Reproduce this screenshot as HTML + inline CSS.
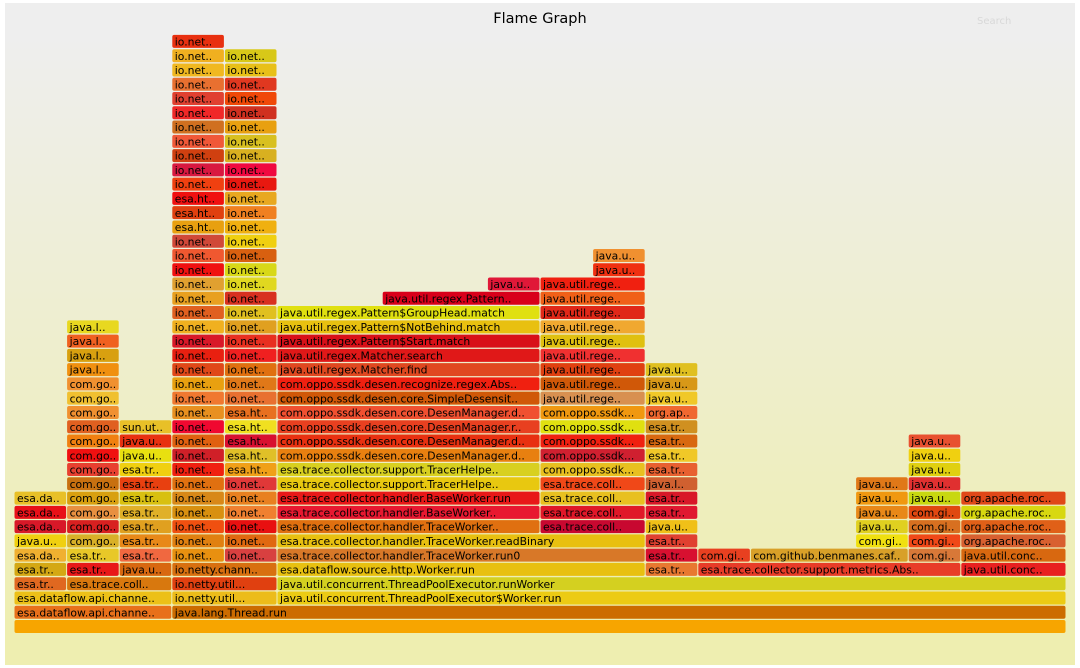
<!DOCTYPE html>
<html><head><meta charset="utf-8"><title>Flame Graph</title>
<style>html,body{margin:0;padding:0;background:#fff;}svg{display:block;}text{font-family:"DejaVu Sans","Liberation Sans",sans-serif;}</style>
</head><body>
<svg id="chart" width="1080" height="668" viewBox="0 0 1080 668">
<defs><linearGradient id="bg" x1="0" y1="0" x2="0" y2="1"><stop offset="5%" stop-color="#eeeeee"/><stop offset="95%" stop-color="#eeeeb0"/></linearGradient></defs>
<rect x="5" y="3" width="1070" height="662" fill="url(#bg)"/>
<text x="540" y="23" text-anchor="middle" font-size="14.5" fill="#000">Flame Graph</text>
<text x="977" y="24" font-size="10" fill="#d8d8d8">Search</text>
<g id="frames"></g>
</svg>
<script>
// Each row: [startUnit, widthUnits, label, color]; row index = stack depth (0 = root)
const totalUnits = 20;
const stackRows = [
 [[0,20,'','#f7a500']],
 [[0,3,'esa.dataflow.api.channe..','#e8701a'],[3,17,'java.lang.Thread.run','#cc6c00']],
 [[0,3,'esa.dataflow.api.channe..','#ecc018'],[3,2,'io.netty.util...','#ecbc1a'],[5,15,'java.util.concurrent.ThreadPoolExecutor$Worker.run','#eccb14']],
 [[0,1,'esa.tr..','#e06820'],[1,2,'esa.trace.coll..','#d8780e'],[3,2,'io.netty.util...','#e04010'],[5,15,'java.util.concurrent.ThreadPoolExecutor.runWorker','#d4d020']],
 [[0,1,'esa.tr..','#d4a814'],[1,1,'esa.tr..','#e81818'],[2,1,'java.u..','#d86810'],[3,2,'io.netty.chann..','#d87010'],[5,7,'esa.dataflow.source.http.Worker.run','#e8c010'],[12,1,'esa.tr..','#e87830'],[13,5,'esa.trace.collector.support.metrics.Abs..','#e83c28'],[18,2,'java.util.conc..','#e82020']],
 [[0,1,'esa.da..','#f0b030'],[1,1,'esa.tr..','#e8c828'],[2,1,'esa.tr..','#f06840'],[3,1,'io.net..','#e89010'],[4,1,'io.net..','#d84040'],[5,7,'esa.trace.collector.handler.TraceWorker.run0','#d87828'],[12,1,'esa.tr..','#d81030'],[13,1,'com.gi..','#e84020'],[14,3,'com.github.benmanes.caf..','#d8a028'],[17,1,'com.gi..','#d87838'],[18,2,'java.util.conc..','#d86810']],
 [[0,1,'java.u..','#f0d010'],[1,1,'com.go..','#d8b028'],[2,1,'esa.tr..','#e88818'],[3,1,'io.net..','#e08010'],[4,1,'io.net..','#e06810'],[5,7,'esa.trace.collector.handler.TraceWorker.readBinary','#e8c010'],[12,1,'esa.tr..','#e04030'],[16,1,'com.gi..','#f0e010'],[17,1,'com.gi..','#f04818'],[18,2,'org.apache.roc..','#d86030']],
 [[0,1,'esa.da..','#d81828'],[1,1,'com.go..','#d82020'],[2,1,'esa.tr..','#e0a020'],[3,1,'io.net..','#f05010'],[4,1,'io.net..','#e81010'],[5,5,'esa.trace.collector.handler.TraceWorker..','#e07010'],[10,2,'esa.trace.coll..','#c80830'],[12,1,'java.u..','#f0c018'],[16,1,'java.u..','#e0d020'],[17,1,'com.gi..','#d87020'],[18,2,'org.apache.roc..','#e06018']],
 [[0,1,'esa.da..','#e81018'],[1,1,'com.go..','#e89040'],[2,1,'esa.tr..','#e0b028'],[3,1,'io.net..','#d89010'],[4,1,'io.net..','#f08030'],[5,5,'esa.trace.collector.handler.BaseWorker..','#e81830'],[10,2,'esa.trace.coll..','#e01828'],[12,1,'esa.tr..','#e01830'],[16,1,'java.u..','#e88818'],[17,1,'com.gi..','#e04810'],[18,2,'org.apache.roc..','#d8d810']],
 [[0,1,'esa.da..','#e8c028'],[1,1,'com.go..','#d8a010'],[2,1,'esa.tr..','#d8c010'],[3,1,'io.net..','#d88818'],[4,1,'io.net..','#e88020'],[5,5,'esa.trace.collector.handler.BaseWorker.run','#e81818'],[10,2,'esa.trace.coll..','#e8c020'],[12,1,'esa.tr..','#d81828'],[16,1,'java.u..','#f09810'],[17,1,'java.u..','#c8d810'],[18,2,'org.apache.roc..','#e04818']],
 [[1,1,'com.go..','#c87010'],[2,1,'esa.tr..','#e84010'],[3,1,'io.net..','#e07010'],[4,1,'io.net..','#e03838'],[5,5,'esa.trace.collector.support.TracerHelpe..','#e8c810'],[10,2,'esa.trace.coll..','#f04818'],[12,1,'java.l..','#d06030'],[16,1,'java.u..','#e07818'],[17,1,'java.u..','#e03030']],
 [[1,1,'com.go..','#e84030'],[2,1,'esa.tr..','#f0d010'],[3,1,'io.net..','#f02010'],[4,1,'esa.ht..','#f0a018'],[5,5,'esa.trace.collector.support.TracerHelpe..','#d8d020'],[10,2,'com.oppo.ssdk...','#e8c020'],[12,1,'esa.tr..','#e86030'],[17,1,'java.u..','#e0d010']],
 [[1,1,'com.go..','#f01010'],[2,1,'java.u..','#e8e010'],[3,1,'io.net..','#d02028'],[4,1,'esa.ht..','#e0c028'],[5,5,'com.oppo.ssdk.desen.core.DesenManager.d..','#e88010'],[10,2,'com.oppo.ssdk...','#d02030'],[12,1,'esa.tr..','#f0c828'],[17,1,'java.u..','#f0d010']],
 [[1,1,'com.go..','#f08010'],[2,1,'java.u..','#e83010'],[3,1,'io.net..','#e06010'],[4,1,'esa.ht..','#d81030'],[5,5,'com.oppo.ssdk.desen.core.DesenManager.d..','#e83010'],[10,2,'com.oppo.ssdk...','#f02010'],[12,1,'esa.tr..','#d86810'],[17,1,'java.u..','#e85030']],
 [[1,1,'com.go..','#e06020'],[2,1,'sun.ut..','#e8c028'],[3,1,'io.net..','#f00830'],[4,1,'esa.ht..','#f0e020'],[5,5,'com.oppo.ssdk.desen.core.DesenManager.r..','#e84020'],[10,2,'com.oppo.ssdk...','#e0e010'],[12,1,'esa.tr..','#d09020']],
 [[1,1,'com.go..','#f09030'],[3,1,'io.net..','#e89020'],[4,1,'esa.ht..','#e87020'],[5,5,'com.oppo.ssdk.desen.core.DesenManager.d..','#f05030'],[10,2,'com.oppo.ssdk...','#f09810'],[12,1,'org.ap..','#f06830']],
 [[1,1,'com.go..','#f0c030'],[3,1,'io.net..','#f07830'],[4,1,'io.net..','#e87030'],[5,5,'com.oppo.ssdk.desen.core.SimpleDesensit..','#d05808'],[10,2,'java.util.rege..','#d89050'],[12,1,'java.u..','#f0c828']],
 [[1,1,'com.go..','#f09030'],[3,1,'io.net..','#e8a010'],[4,1,'io.net..','#e07818'],[5,5,'com.oppo.ssdk.desen.recognize.regex.Abs..','#f02010'],[10,2,'java.util.rege..','#d05808'],[12,1,'java.u..','#d89818']],
 [[1,1,'java.l..','#f09010'],[3,1,'io.net..','#e04818'],[4,1,'io.net..','#e07010'],[5,5,'java.util.regex.Matcher.find','#e04820'],[10,2,'java.util.rege..','#e04010'],[12,1,'java.u..','#e0c020']],
 [[1,1,'java.l..','#d8a010'],[3,1,'io.net..','#e82010'],[4,1,'io.net..','#f02020'],[5,5,'java.util.regex.Matcher.search','#e01818'],[10,2,'java.util.rege..','#f03030']],
 [[1,1,'java.l..','#f06020'],[3,1,'io.net..','#d81828'],[4,1,'io.net..','#e83020'],[5,5,'java.util.regex.Pattern$Start.match','#d81018'],[10,2,'java.util.rege..','#e0c010']],
 [[1,1,'java.l..','#e8d820'],[3,1,'io.net..','#f0b020'],[4,1,'io.net..','#e0a020'],[5,5,'java.util.regex.Pattern$NotBehind.match','#e8c010'],[10,2,'java.util.rege..','#f0a830']],
 [[3,1,'io.net..','#e06020'],[4,1,'io.net..','#e0c020'],[5,5,'java.util.regex.Pattern$GroupHead.match','#e0e010'],[10,2,'java.util.rege..','#e02818']],
 [[3,1,'io.net..','#e8a020'],[4,1,'io.net..','#d83020'],[7,3,'java.util.regex.Pattern..','#d8001a'],[10,2,'java.util.rege..','#f06018']],
 [[3,1,'io.net..','#e0a030'],[4,1,'io.net..','#e0d820'],[9,1,'java.u..','#e01838'],[10,2,'java.util.rege..','#f02010']],
 [[3,1,'io.net..','#f01010'],[4,1,'io.net..','#d8d818'],[11,1,'java.u..','#f03010']],
 [[3,1,'io.net..','#f05830'],[4,1,'io.net..','#d86010'],[11,1,'java.u..','#f09030']],
 [[3,1,'io.net..','#d04838'],[4,1,'io.net..','#f0d010']],
 [[3,1,'esa.ht..','#e8a010'],[4,1,'io.net..','#f0b010']],
 [[3,1,'esa.ht..','#e04010'],[4,1,'io.net..','#f08020']],
 [[3,1,'esa.ht..','#f01010'],[4,1,'io.net..','#e8a820']],
 [[3,1,'io.net..','#f04010'],[4,1,'io.net..','#e81810']],
 [[3,1,'io.net..','#d81840'],[4,1,'io.net..','#f00840']],
 [[3,1,'io.net..','#d04010'],[4,1,'io.net..','#d8b020']],
 [[3,1,'io.net..','#f05838'],[4,1,'io.net..','#d8c020']],
 [[3,1,'io.net..','#d07020'],[4,1,'io.net..','#e8a010']],
 [[3,1,'io.net..','#f02828'],[4,1,'io.net..','#d03020']],
 [[3,1,'io.net..','#e04030'],[4,1,'io.net..','#f04808']],
 [[3,1,'io.net..','#e87030'],[4,1,'io.net..','#e03820']],
 [[3,1,'io.net..','#f0b820'],[4,1,'io.net..','#e8c018']],
 [[3,1,'io.net..','#f0b020'],[4,1,'io.net..','#d8c818']],
 [[3,1,'io.net..','#e83010']]
];

const X0 = 14, X1 = 1066, ROOT_Y = 620, PITCH = 14.27, BAR_H = 13;
function xScale(u){ return X0 + (X1 - X0) * u / totalUnits; }
function yScale(r){ return ROOT_Y - PITCH * r; }

const NS = 'http://www.w3.org/2000/svg';
const g = document.getElementById('frames');
stackRows.forEach(function(row, r){
  row.forEach(function(f){
    const x = xScale(f[0]), w = xScale(f[0] + f[1]) - x, y = yScale(r);
    const grp = document.createElementNS(NS, 'g');
    
    
    const rect = document.createElementNS(NS, 'rect');
    rect.setAttribute('x', (x + 0.5).toFixed(2));
    rect.setAttribute('y', y.toFixed(2));
    rect.setAttribute('width', (w - 1).toFixed(2));
    rect.setAttribute('height', BAR_H);
    rect.setAttribute('rx', 2);
    rect.setAttribute('fill', f[3]);
    
    
    grp.appendChild(rect);
    if (f[2]) {
      const t = document.createElementNS(NS, 'text');
      t.setAttribute('x', (x + 3).toFixed(2));
      t.setAttribute('y', (y + 10.6).toFixed(2));
      t.setAttribute('font-size', '10.8');
      t.setAttribute('fill', '#000');
      
      
      t.textContent = f[2];
      grp.appendChild(t);
    }
    g.appendChild(grp);
  });
});
</script>
</body></html>
